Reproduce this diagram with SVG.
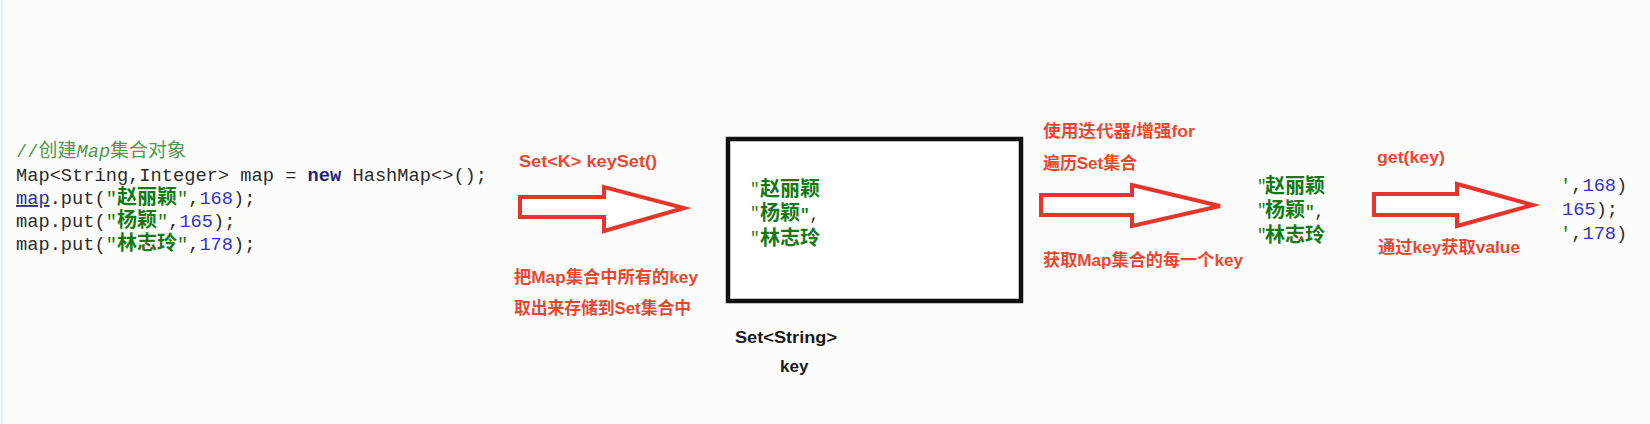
<svg xmlns="http://www.w3.org/2000/svg" width="1650" height="424" viewBox="0 0 1650 424">
<style>
.code{font-family:"Liberation Mono","DejaVu Sans Mono",monospace;font-size:18.7px;fill:#2b2b2b}
.cmt{fill:#4e9a50}
.cjk{font-family:"Noto Sans CJK SC",sans-serif}
.str{font-family:"Noto Sans CJK SC",sans-serif;font-weight:bold;fill:#137a13;font-size:20px}
.q{fill:#137a13}
.num{fill:#3232cc}
.kw{fill:#1f1f80;font-weight:bold}
.lbl{font-family:"Liberation Sans","Noto Sans CJK SC",sans-serif;font-weight:bold;font-size:17px;fill:#ec4632}
.blk{font-family:"Liberation Sans","Noto Sans CJK SC",sans-serif;font-weight:bold;font-size:17px;fill:#1a1a1a}
.g{font-family:"Noto Sans CJK SC",sans-serif;font-weight:bold;font-size:20px;fill:#137a13}
.gq{font-family:"Liberation Mono",monospace;font-size:16px;fill:#137a13}
.arrow{fill:#ffffff;stroke:#e8352b;stroke-width:4;stroke-linejoin:miter}
</style>
<rect x="0" y="0" width="1650" height="424" fill="#fcfdfb"/>
<line x1="2" y1="0" x2="2" y2="424" stroke="#e6edf4" stroke-width="2"/>

<g id="code">
<text class="code" x="16" y="157"><tspan class="cmt">//</tspan><tspan class="cmt cjk" font-size="19">创建</tspan><tspan class="cmt" font-style="italic">Map</tspan><tspan class="cmt cjk" font-size="19">集合对象</tspan></text>
<text class="code" x="16" y="181">Map&lt;String,Integer&gt; map = <tspan class="kw">new</tspan> HashMap&lt;&gt;();</text>
<text class="code" x="16" y="204"><tspan fill="#2a2a9a" text-decoration="underline">map</tspan>.put(<tspan class="q">"</tspan><tspan class="str">赵丽颖</tspan><tspan class="q">"</tspan>,<tspan class="num">168</tspan>);</text>
<text class="code" x="16" y="227">map.put(<tspan class="q">"</tspan><tspan class="str">杨颖</tspan><tspan class="q">"</tspan>,<tspan class="num">165</tspan>);</text>
<text class="code" x="16" y="250">map.put(<tspan class="q">"</tspan><tspan class="str">林志玲</tspan><tspan class="q">"</tspan>,<tspan class="num">178</tspan>);</text>
</g>

<g id="connectors">
<polygon class="arrow" points="520,197 604,197 604,187 684,208 604,231 604,217 520,217"/>
<polygon class="arrow" points="1041,195 1132,195 1132,185 1220,206 1132,226 1132,215 1041,215"/>
<polygon class="arrow" points="1374,194 1457,194 1457,184 1533,205 1457,226 1457,215 1374,215"/>
</g>

<g id="label-keyset">
<text class="lbl" x="519" y="167" textLength="138" lengthAdjust="spacingAndGlyphs">Set&lt;K&gt; keySet()</text>
<text class="lbl" x="514" y="283" textLength="184" lengthAdjust="spacingAndGlyphs">把Map集合中所有的key</text>
<text class="lbl" x="514" y="314" textLength="177" lengthAdjust="spacingAndGlyphs">取出来存储到Set集合中</text>
</g>

<g id="set-box">
<rect x="728" y="139" width="293" height="162" fill="#ffffff" stroke="#111111" stroke-width="4.5"/>
<text class="gq" x="750" y="194">"</text><text class="g" x="760" y="196">赵丽颖</text>
<text class="gq" x="750" y="218">"</text><text class="g" x="760" y="220">杨颖<tspan class="gq">"</tspan><tspan font-family="Liberation Mono,monospace" font-weight="normal" fill="#1a1a1a" font-size="16">,</tspan></text>
<text class="gq" x="750" y="243">"</text><text class="g" x="760" y="245">林志玲</text>
<text class="blk" x="735" y="343" textLength="102" lengthAdjust="spacingAndGlyphs">Set&lt;String&gt;</text>
<text class="blk" x="780" y="372">key</text>
</g>

<g id="label-iterate">
<text class="lbl" x="1043" y="137" textLength="152" lengthAdjust="spacingAndGlyphs">使用迭代器/增强for</text>
<text class="lbl" x="1043" y="169" textLength="94" lengthAdjust="spacingAndGlyphs">遍历Set集合</text>
<text class="lbl" x="1043" y="266" textLength="200" lengthAdjust="spacingAndGlyphs">获取Map集合的每一个key</text>
</g>

<g id="keys">
<text class="gq" x="1257" y="191">"</text><text class="g" x="1265" y="193">赵丽颖</text>
<text class="gq" x="1257" y="215">"</text><text class="g" x="1265" y="217">杨颖<tspan class="gq">"</tspan><tspan font-family="Liberation Mono,monospace" font-weight="normal" fill="#1a1a1a" font-size="16">,</tspan></text>
<text class="gq" x="1257" y="240">"</text><text class="g" x="1265" y="242">林志玲</text>
</g>

<g id="label-get">
<text class="lbl" x="1377" y="163" textLength="68" lengthAdjust="spacingAndGlyphs">get(key)</text>
<text class="lbl" x="1378" y="253" textLength="142" lengthAdjust="spacingAndGlyphs">通过key获取value</text>
</g>

<g id="values">
<text class="code" x="1560" y="191" font-size="19.5"><tspan class="q">'</tspan>,<tspan class="num">168</tspan>)</text>
<text class="code" x="1562" y="215" font-size="19.5"><tspan class="num">165</tspan>);</text>
<text class="code" x="1560" y="239" font-size="19.5"><tspan class="q">'</tspan>,<tspan class="num">178</tspan>)</text>
</g>
</svg>
